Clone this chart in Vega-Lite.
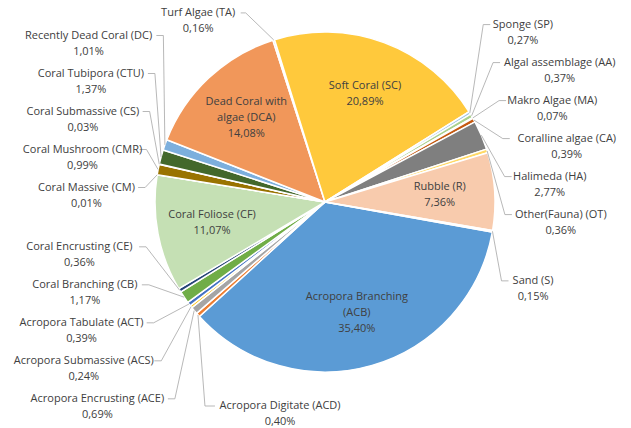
{
  "$schema": "https://vega.github.io/schema/vega-lite/v6.json",
  "width": 612,
  "height": 404,
  "autosize": {"type": "none"},
  "padding": {"left": 19, "top": 0, "right": 0, "bottom": 24},
  "background": "white",
  "config": {"view": {"stroke": null}, "text": {"font": "Open Sans"}},
  "data": {
    "values": [
      {"code": "ACB", "name": "Acropora Branching\n(ACB)", "value": 35.40},
      {"code": "ACD", "name": "Acropora Digitate (ACD)", "value": 0.40},
      {"code": "ACE", "name": "Acropora Encrusting (ACE)", "value": 0.69},
      {"code": "ACS", "name": "Acropora Submassive (ACS)", "value": 0.24},
      {"code": "ACT", "name": "Acropora Tabulate (ACT)", "value": 0.39},
      {"code": "CB", "name": "Coral Branching (CB)", "value": 1.17},
      {"code": "CE", "name": "Coral Encrusting (CE)", "value": 0.36},
      {"code": "CF", "name": "Coral Foliose (CF)", "value": 11.07},
      {"code": "CM", "name": "Coral Massive (CM)", "value": 0.01},
      {"code": "CMR", "name": "Coral Mushroom (CMR)", "value": 0.99},
      {"code": "CS", "name": "Coral Submassive (CS)", "value": 0.03},
      {"code": "CTU", "name": "Coral Tubipora (CTU)", "value": 1.37},
      {"code": "DC", "name": "Recently Dead Coral (DC)", "value": 1.01},
      {"code": "DCA", "name": "Dead Coral with\nalgae (DCA)", "value": 14.08},
      {"code": "TA", "name": "Turf Algae (TA)", "value": 0.16},
      {"code": "SC", "name": "Soft Coral (SC)", "value": 20.89},
      {"code": "SP", "name": "Sponge (SP)", "value": 0.27},
      {"code": "AA", "name": "Algal assemblage (AA)", "value": 0.37},
      {"code": "MA", "name": "Makro Algae (MA)", "value": 0.07},
      {"code": "CA", "name": "Coralline algae (CA)", "value": 0.39},
      {"code": "HA", "name": "Halimeda (HA)", "value": 2.77},
      {"code": "OT", "name": "Other(Fauna) (OT)", "value": 0.36},
      {"code": "R", "name": "Rubble (R)", "value": 7.36},
      {"code": "S", "name": "Sand (S)", "value": 0.15}
    ]
  },
  "transform": [
    {"window": [{"op": "row_number", "as": "idx"}]},
    {"joinaggregate": [{"op": "sum", "field": "value", "as": "total"}]},
    {"window": [{"op": "sum", "field": "value", "as": "cum"}], "sort": [{"field": "idx"}], "frame": [null, 0]},
    {"calculate": "1.7488 + 2 * PI * (datum.cum - datum.value / 2) / datum.total", "as": "a"},
    {"calculate": "sin(datum.a)", "as": "s"},
    {"calculate": "cos(datum.a)", "as": "c"},
    {"calculate": "replace(format(datum.value, '.2f'), '.', ',') + '%'", "as": "pct"},
    {"calculate": "datum.name + '\\n' + datum.pct", "as": "label"},
    {"calculate": "length(split(datum.label, '\\n'))", "as": "nl"}
  ],
  "layer": [
    {
      "mark": {"type": "arc", "outerRadius": 170, "stroke": "white", "strokeWidth": 1.5},
      "encoding": {
        "theta": {"field": "value", "type": "quantitative", "stack": true, "scale": {"range": [1.7488, 8.0320]}},
        "order": {"field": "idx", "type": "quantitative"},
        "color": {
          "field": "code",
          "type": "nominal",
          "legend": null,
          "scale": {
            "domain": ["ACB", "ACD", "ACE", "ACS", "ACT", "CB", "CE", "CF", "CM", "CMR", "CS", "CTU", "DC", "DCA", "TA", "SC", "SP", "AA", "MA", "CA", "HA", "OT", "R", "S"],
            "range": ["#5B9BD5", "#ED7D31", "#A5A5A5", "#FFC000", "#4472C4", "#70AD47", "#264478", "#C5E0B4", "#636363", "#997300", "#FFE699", "#43682B", "#7CAFDD", "#F1975A", "#B7B7B7", "#FFC93C", "#9DC3E6", "#A9D18E", "#D9D9D9", "#C55A11", "#7F7F7F", "#FFD966", "#F8CBAD", "#BDD7EE"]
          }
        }
      }
    },
    {
      "transform": [
        {"filter": "datum.value >= 3"},
        {"calculate": "115 * datum.s", "as": "ix"},
        {"calculate": "-115 * datum.c - (datum.nl - 1) * 8", "as": "iy"}
      ],
      "mark": {"type": "text", "lineBreak": "\n", "fontSize": 11, "lineHeight": 16, "color": "#404040", "align": "center", "baseline": "middle"},
      "encoding": {
        "x": {"field": "ix", "type": "quantitative", "axis": null, "scale": {"domain": [-306, 306], "nice": false, "zero": false}},
        "y": {"field": "iy", "type": "quantitative", "axis": null, "scale": {"domain": [-202, 202], "reverse": true, "nice": false, "zero": false}},
        "text": {"field": "label"}
      }
    },
    {
      "transform": [
        {"filter": "datum.value < 3"},
        {"calculate": "datum.c > 0.9 ? 'T' : (datum.c < -0.65 ? 'B' : (datum.s > 0 ? 'R' : (datum.c > 0 ? 'LU' : 'LL')))", "as": "grp"},
        {"calculate": "-200 * datum.c", "as": "yn"},
        {"calculate": "length(datum.name) * 2.7", "as": "hw"},
        {"window": [{"op": "row_number", "as": "rk"}], "groupby": ["grp"], "sort": [{"field": "yn", "order": "ascending"}]},
        {"calculate": "datum.yn - (datum.rk - 1) * 38", "as": "t1"},
        {"window": [{"op": "max", "field": "t1", "as": "m1"}], "groupby": ["grp"], "sort": [{"field": "yn", "order": "ascending"}], "frame": [null, 0]},
        {"calculate": "datum.m1 + (datum.rk - 1) * 38", "as": "yd"},
        {"window": [{"op": "row_number", "as": "rk2"}], "groupby": ["grp"], "sort": [{"field": "yn", "order": "descending"}]},
        {"calculate": "datum.yn + (datum.rk2 - 1) * 38", "as": "t2"},
        {"window": [{"op": "min", "field": "t2", "as": "m2"}], "groupby": ["grp"], "sort": [{"field": "yn", "order": "descending"}], "frame": [null, 0]},
        {"calculate": "datum.m2 - (datum.rk2 - 1) * 38", "as": "yu"},
        {"calculate": "datum.grp == 'LU' ? 0.15 : 0.5", "as": "w"},
        {"calculate": "170 * datum.s", "as": "sx"},
        {"calculate": "-170 * datum.c", "as": "sy"},
        {"calculate": "datum.grp == 'B' ? 204 : (datum.grp == 'T' ? datum.sy - 27 : datum.w * datum.yd + (1 - datum.w) * datum.yu + (datum.grp == 'LL' ? 5 : 0))", "as": "ly"},
        {"calculate": "datum.grp == 'B' ? (datum.s > 0 ? -1 : 1) : (datum.s > 0 ? 1 : -1)", "as": "sg"},
        {"calculate": "140 + 50 * sqrt(max(0, 1 - pow(datum.ly / 215, 2)))", "as": "di"},
        {"calculate": "datum.grp == 'T' ? datum.sx + datum.sg * (35 + datum.hw) : (datum.grp == 'B' ? datum.sx + datum.sg * (20 + datum.hw) : datum.sg * (datum.di + datum.hw))", "as": "lx"},
        {"calculate": "datum.grp == 'T' ? datum.sx + datum.sg * 28 : (datum.grp == 'B' ? datum.sx + datum.sg * 7 : datum.sg * (datum.di - 10))", "as": "ex"},
        {"calculate": "datum.grp == 'T' ? datum.sx + datum.sg * 33 : (datum.grp == 'B' ? datum.sx + datum.sg * 17 : datum.sg * (datum.di - 3))", "as": "ax"}
      ],
      "layer": [
        {
          "mark": {"type": "rule", "color": "#A6A6A6", "strokeWidth": 0.8},
          "encoding": {
            "x": {"field": "sx", "type": "quantitative", "axis": null, "scale": {"domain": [-306, 306], "nice": false, "zero": false}},
            "y": {"field": "sy", "type": "quantitative", "axis": null, "scale": {"domain": [-202, 202], "reverse": true, "nice": false, "zero": false}},
            "x2": {"field": "ex"},
            "y2": {"field": "ly"}
          }
        },
        {
          "mark": {"type": "rule", "color": "#A6A6A6", "strokeWidth": 0.8},
          "encoding": {
            "x": {"field": "ex", "type": "quantitative", "axis": null, "scale": {"domain": [-306, 306], "nice": false, "zero": false}},
            "y": {"field": "ly", "type": "quantitative", "axis": null, "scale": {"domain": [-202, 202], "reverse": true, "nice": false, "zero": false}},
            "x2": {"field": "ax"},
            "y2": {"field": "ly"}
          }
        },
        {
          "mark": {"type": "text", "lineBreak": "\n", "fontSize": 11, "lineHeight": 16, "color": "#404040", "align": "center", "baseline": "middle"},
          "encoding": {
            "x": {"field": "lx", "type": "quantitative", "axis": null, "scale": {"domain": [-306, 306], "nice": false, "zero": false}},
            "y": {"field": "ly", "type": "quantitative", "axis": null, "scale": {"domain": [-202, 202], "reverse": true, "nice": false, "zero": false}},
            "text": {"field": "label"}
          }
        }
      ]
    }
  ]
}
